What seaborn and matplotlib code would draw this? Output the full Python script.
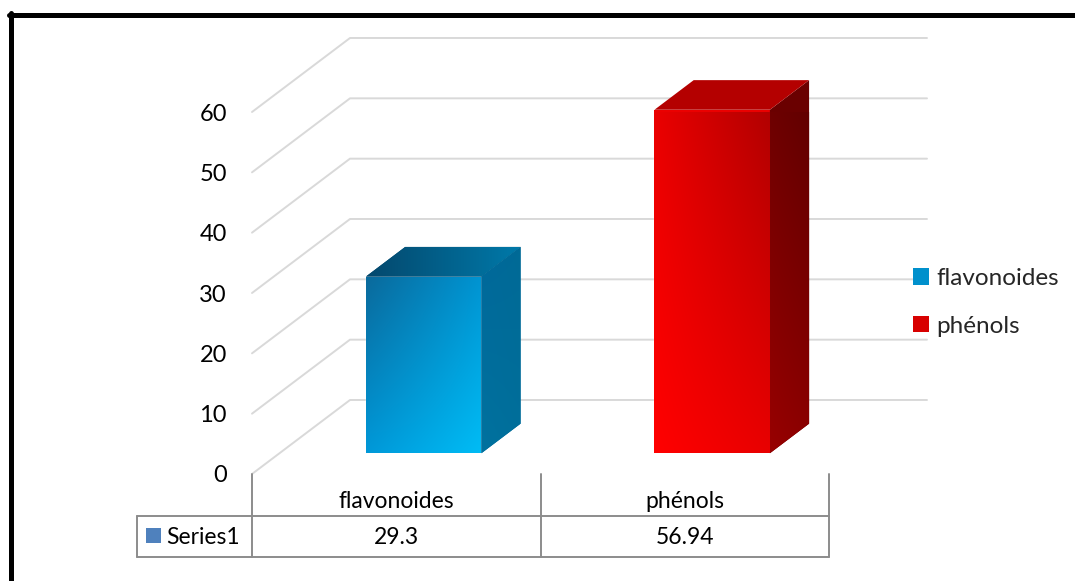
import numpy as np
import matplotlib
matplotlib.use("Agg")
import matplotlib.pyplot as plt
from matplotlib.patches import Polygon, Rectangle, Patch
from matplotlib.lines import Line2D
from matplotlib import transforms
import seaborn as sns

# ---- data ----
categories = ["flavonoides", "phénols"]
values = [29.3, 56.94]
series_name = "Series1"
y_ticks = [0, 10, 20, 30, 40, 50, 60]

# ---- styling ----
front_colors = ["#0096d6", "#f00000"]
legend_colors = ["#0090cc", "#d80000"]
# corner colours (top-left, top-right, bottom-left, bottom-right) per face
face_shades = {
    "flavonoides": {
        "front": ["#0a6a9c", "#0094d2", "#0098d8", "#00bcf5"],
        "side": ["#00689a", "#006a96", "#00729f", "#006f9b"],
        "top": ["#04486d", "#0079a9", "#04486d", "#0079a9"],
    },
    "phénols": {
        "front": ["#ea0000", "#b20000", "#ff0000", "#e80000"],
        "side": ["#6a0000", "#5e0000", "#980000", "#8c0000"],
        "top": ["#b40000", "#6e0000", "#b40000", "#6e0000"],
    },
}

W, H = 1075, 581
sns.set_style("white")
plt.rcParams["font.family"] = ["Lato", "DejaVu Sans"]


def fx(px):
    return px / W


def fy(py):
    return 1 - py / H


fig = plt.figure(figsize=(W / 100, H / 100), dpi=100)
ax = fig.add_axes([fx(252), fy(474), 577 / W, 362 / H])

BAR_W = 0.40
sns.barplot(x=categories, y=values, hue=categories, palette=front_colors,
            width=BAR_W, errorbar=None, legend=False, saturation=1, ax=ax)

ax.set_xlim(-0.5, 1.5)
ax.set_ylim(0, 60)

# oblique depth vector (data units for the full wall depth)
DX = 98 / 288.5
DY = 74 / 6.033
D0 = 0.28      # depth of the bar front faces
DT = 0.40      # bar thickness in depth


def hex2rgb(h):
    h = h.lstrip("#")
    return np.array([int(h[i:i + 2], 16) / 255 for i in (0, 2, 4)])


def shaded_face(verts, corners, z):
    verts = np.asarray(verts)
    poly = Polygon(verts, closed=True, facecolor=corners[0], edgecolor="none",
                   transform=ax.transData, clip_on=False, zorder=z)
    ax.add_patch(poly)
    x0, y0 = verts.min(axis=0)
    x1, y1 = verts.max(axis=0)
    n = 64
    u = np.linspace(0, 1, n)[None, :, None]
    v = np.linspace(0, 1, n)[:, None, None]   # 0 = bottom, 1 = top
    tl, tr, bl, br = [hex2rgb(c) for c in corners]
    img = (bl * (1 - u) * (1 - v) + br * u * (1 - v)
           + tl * (1 - u) * v + tr * u * v)
    im = ax.imshow(img, extent=[x0, x1, y0, y1], origin="lower",
                   aspect="auto", interpolation="bilinear", zorder=z + 0.1)
    im.set_clip_on(True)
    im.set_clip_path(poly)
    return poly


# back wall / side wall gridlines
for v in y_ticks:
    ax.plot([-0.5, -0.5 + DX, 1.5 + DX], [v, v + DY, v + DY],
            color="#d9d9d9", lw=1.4, clip_on=False, zorder=1)

# shift seaborn bars back into the box and add 3D faces
for patch, cat, val in zip(ax.patches[:len(values)], categories, values):
    x0 = patch.get_x() + D0 * DX
    y0 = D0 * DY
    patch.set_x(x0)
    patch.set_y(y0)
    patch.set_zorder(3)
    patch.set_clip_on(False)
    x1 = x0 + patch.get_width()
    y1 = y0 + val
    shades = face_shades[cat]
    # front face gradient clipped to the seaborn bar
    shaded_face([(x0, y0), (x1, y0), (x1, y1), (x0, y1)], shades["front"], 3)
    # side face
    shaded_face([(x1, y0), (x1 + DT * DX, y0 + DT * DY),
                 (x1 + DT * DX, y1 + DT * DY), (x1, y1)], shades["side"], 3)
    # top face
    shaded_face([(x0, y1), (x1, y1), (x1 + DT * DX, y1 + DT * DY),
                 (x0 + DT * DX, y1 + DT * DY)], shades["top"], 3)

ax.set_xlim(-0.5, 1.5)
ax.set_ylim(0, 60)
ax.set_yticks(y_ticks)
ax.set_yticklabels([str(t) for t in y_ticks])
ax.tick_params(axis="y", length=0, pad=18, labelsize=17, labelcolor="black")
ax.set_xticks([])
ax.set_xlabel("")
ax.set_ylabel("")
for s in ax.spines.values():
    s.set_visible(False)
ax.patch.set_alpha(0)

# ---- data table ----
tx = transforms.blended_transform_factory(ax.transData, fig.transFigure)
grid_c = "#8c8c8c"
table_lw = 1.4
col_edges = [-0.5 + i for i in range(len(categories) + 1)]
for xe in col_edges:
    fig.add_artist(Line2D([xe, xe], [fy(474), fy(557)], transform=tx,
                          color=grid_c, lw=table_lw))
left_cell = -0.5 - 115 / 288.5
for yy in (516, 557):
    fig.add_artist(Line2D([left_cell, col_edges[-1]], [fy(yy), fy(yy)],
                          transform=tx, color=grid_c, lw=table_lw))
fig.add_artist(Line2D([left_cell, left_cell], [fy(516), fy(557)], transform=tx,
                      color=grid_c, lw=table_lw))
for i, (cat, val) in enumerate(zip(categories, values)):
    fig.text(i, fy(501), cat, transform=tx, ha="center", va="center",
             fontsize=16.5, color="black")
    fig.text(i, fy(538), f"{val:g}", transform=tx, ha="center", va="center",
             fontsize=16.5, color="black")
fig.add_artist(Rectangle((fx(146), fy(543)), 15 / W, 15 / H,
                         transform=fig.transFigure, facecolor="#4f81bd",
                         edgecolor="none"))
fig.text(fx(166), fy(538), series_name, ha="left", va="center",
         fontsize=16.5, color="black")

# ---- legend ----
handles = [Patch(facecolor=c, edgecolor="none") for c in legend_colors]
fig.legend(handles, categories, loc="upper left",
           bbox_to_anchor=(fx(913), fy(268)), frameon=False, fontsize=17.5,
           handlelength=0.66, handleheight=0.66, handletextpad=0.3,
           labelspacing=1.1, borderpad=0, borderaxespad=0)

# ---- outer frame ----
fig.add_artist(Line2D([fx(11), fx(11)], [fy(12.5), fy(H + 10)],
                      transform=fig.transFigure, color="black", lw=3.6))
fig.add_artist(Line2D([fx(8.5), fx(W + 10)], [fy(14.8), fy(14.8)],
                      transform=fig.transFigure, color="black", lw=3.6))

fig.savefig("out.png", dpi=100)
